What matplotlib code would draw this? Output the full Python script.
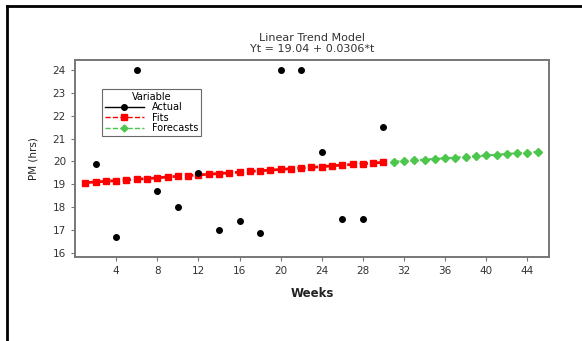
import matplotlib
matplotlib.use("Agg")
from matplotlib import pyplot as plt
from matplotlib.lines import Line2D
import numpy as np

# values
actual_weeks = [2, 4, 6, 8, 10, 12, 14, 16, 18, 20, 22, 24, 26, 28, 30]
actual_pm = [19.9, 16.7, 24.0, 18.7, 18.0, 19.5, 17.0, 17.4, 16.85, 24.0, 24.0, 20.4, 17.5, 17.5, 21.5]

fit_weeks = list(range(1, 31))
fit_pm = [19.07, 19.10, 19.13, 19.16, 19.19, 19.22, 19.25, 19.28, 19.32, 19.35,
          19.38, 19.41, 19.44, 19.47, 19.50, 19.53, 19.56, 19.59, 19.62, 19.65,
          19.68, 19.71, 19.74, 19.77, 19.81, 19.84, 19.87, 19.90, 19.93, 19.96]

fc_weeks = list(range(31, 46))
fc_pm = [19.99, 20.02, 20.05, 20.08, 20.11, 20.14, 20.17, 20.20, 20.23, 20.26,
         20.29, 20.33, 20.36, 20.39, 20.42]

xticks = [4, 8, 12, 16, 20, 24, 28, 32, 36, 40, 44]
yticks = [16, 17, 18, 19, 20, 21, 22, 23, 24]

fig = plt.figure(figsize=(5.82, 3.41), dpi=100)
ax = fig.add_axes([75/582, 1 - 256.7/341, 474/582, 196.7/341])

ax.plot(actual_weeks, actual_pm, "o", color="black", ms=4, zorder=3)
ax.plot(fit_weeks, fit_pm, "--s", color="red", ms=4, lw=2, dashes=(3, 1.5))
ax.plot(fc_weeks, fc_pm, "--D", color="#4cc64c", ms=4.5, lw=1.4, dashes=(3, 1.5))

ax.set_xlim(0, 46.1)
ax.set_ylim(15.83, 24.44)
ax.set_xticks(xticks)
ax.set_yticks(yticks)
for sp in ax.spines.values():
    sp.set_color("#777777")
    sp.set_linewidth(1.4)
ax.tick_params(colors="#333333", labelsize=7.5, length=3, width=0.8, direction="out")
ax.tick_params(axis="both", color="#777777")

ax.set_xlabel("Weeks", fontsize=8.5, fontweight="bold", color="#222222", labelpad=8)
ax.set_ylabel("PM (hrs)", fontsize=7.5, color="#222222", labelpad=10)
ax.set_title("Linear Trend Model\nYt = 19.04 + 0.0306*t", fontsize=8, color="#333333",
             linespacing=1.1, pad=6)

handles = [
    Line2D([], [], color="black", marker="o", ms=4, lw=1),
    Line2D([], [], color="red", marker="s", ms=4, lw=1, ls="--"),
    Line2D([], [], color="#4cc64c", marker="D", ms=3.5, lw=1, ls="--"),
]
leg = ax.legend(handles, ["Actual", "Fits", "Forecasts"], title="Variable",
                loc="upper left", bbox_to_anchor=(27/474, 1 - 29/196.7),
                fontsize=7, title_fontsize=7, frameon=True, fancybox=False,
                borderpad=0.3, labelspacing=0.05, handlelength=4, handletextpad=0.8,
                borderaxespad=0)
leg.get_frame().set_edgecolor("#444444")
leg.get_frame().set_linewidth(0.8)

# outer frame (left and top edges visible)
fig.add_artist(Line2D([7/582, 7/582], [0, 1 - 6/341], color="black", lw=2,
                      transform=fig.transFigure))
fig.add_artist(Line2D([7/582, 1], [1 - 6/341, 1 - 6/341], color="black", lw=2,
                      transform=fig.transFigure))

fig.savefig("out.png", dpi=100)
